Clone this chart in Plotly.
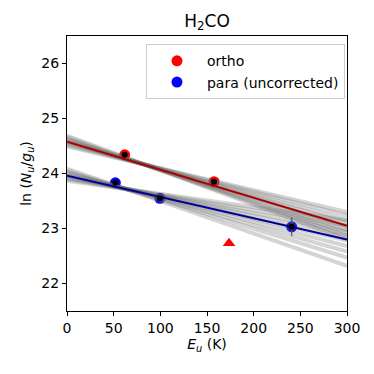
import plotly.graph_objects as go

# datos
ortho_eu = [61.8, 157.5]
ortho_lnn = [24.34, 23.85]
para_eu = [51.8, 99.5, 240.7]
para_lnn = [23.83, 23.55, 23.03]
para_err = [0.0, 0.0, 0.17]
tri_eu = [173.6]
tri_lnn = [22.73]

fit_x = [0, 300]
ortho_fit = [24.58, 23.05]
para_fit = [23.96, 22.80]

# muestras del ajuste (valor en E=0 y en E=300)
ortho_samp_0 = [24.49, 24.52, 24.55, 24.57, 24.59, 24.61, 24.63, 24.66, 24.69]
ortho_samp_300 = [23.30, 23.24, 23.16, 23.10, 23.04, 22.98, 22.92, 22.86, 22.80]
para_samp_0 = [23.87, 23.90, 23.92, 23.95, 23.97, 24.00, 24.02, 24.05, 24.09]
para_samp_300 = [23.15, 23.05, 22.96, 22.87, 22.78, 22.68, 22.58, 22.47, 22.32]

fig = go.Figure()

# puntos coloreados (debajo)
fig.add_trace(go.Scatter(x=ortho_eu, y=ortho_lnn, mode="markers", name="ortho",
                         marker=dict(color="red", size=11)))
fig.add_trace(go.Scatter(x=para_eu, y=para_lnn, mode="markers", name="para (uncorrected)",
                         marker=dict(color="blue", size=11)))

# muestras grises
for y0, y1 in list(zip(ortho_samp_0, ortho_samp_300)) + list(zip(para_samp_0, para_samp_300)):
    fig.add_trace(go.Scatter(x=fit_x, y=[y0, y1], mode="lines", showlegend=False,
                             line=dict(color="rgba(100,100,100,0.28)", width=4),
                             hoverinfo="skip"))

# ajustes
fig.add_trace(go.Scatter(x=fit_x, y=ortho_fit, mode="lines", showlegend=False,
                         line=dict(color="#aa0000", width=2)))
fig.add_trace(go.Scatter(x=fit_x, y=para_fit, mode="lines", showlegend=False,
                         line=dict(color="#000099", width=2)))

# puntos negros con barras de error
fig.add_trace(go.Scatter(x=ortho_eu + para_eu, y=ortho_lnn + para_lnn, mode="markers",
                         showlegend=False, marker=dict(color="black", size=6),
                         error_y=dict(type="data", array=[0, 0] + para_err,
                                      color="rgba(80,80,80,0.8)", thickness=1.5, width=0)))

fig.add_trace(go.Scatter(x=tri_eu, y=tri_lnn, mode="markers", showlegend=False,
                         marker=dict(color="red", size=11, symbol="triangle-up")))

axis = dict(showline=True, linecolor="black", linewidth=1, mirror=True, ticks="outside",
            ticklen=4, tickcolor="black", showgrid=False, zeroline=False, automargin=False,
            tickfont=dict(size=14, color="black"))

# la pagina tiene 8px de margen en el body: se compensa aqui
fig.update_layout(
    width=374, height=374,
    margin=dict(l=59, r=35, t=28, b=71),
    paper_bgcolor="white", plot_bgcolor="white",
    font=dict(family="DejaVu Sans", color="black"),
    title=dict(text="H<sub>2</sub>CO", x=0.532, xanchor="center", y=0.95, yanchor="bottom",
               font=dict(size=17)),
    xaxis=dict(axis, range=[0, 300], dtick=50,
               title=dict(text="<i>E<sub>u</sub></i> (K)", font=dict(size=14), standoff=4)),
    yaxis=dict(axis, range=[21.5, 26.5], dtick=1,
               title=dict(text="ln (<i>N<sub>u</sub></i>/<i>g<sub>u</sub></i>)",
                          font=dict(size=14), standoff=6)),
    legend=dict(x=0.282, xanchor="left", y=0.97, yanchor="top", bordercolor="#cccccc",
                borderwidth=1, bgcolor="rgba(255,255,255,0.8)", font=dict(size=14),
                itemwidth=50),
)

fig.write_html("out.html")
